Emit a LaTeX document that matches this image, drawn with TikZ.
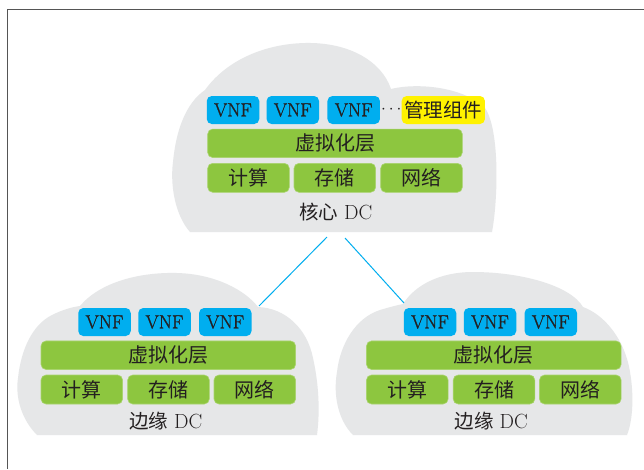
\documentclass[tikz,border=0pt]{standalone}
\usepackage{fontspec}
\newfontfamily\cjk{Noto Sans CJK SC}
\newfontfamily\vnffont{Latin Modern Roman}[FakeBold=1.2]
\definecolor{cloudgray}{HTML}{E6E7E8}
\definecolor{vnfblue}{HTML}{00AEEF}
\definecolor{laygreen}{HTML}{8DC63F}
\definecolor{laygreenrim}{HTML}{A9D46E}
\definecolor{mgmtyellow}{HTML}{FFF200}
\definecolor{txt}{HTML}{231F20}
\definecolor{framegray}{HTML}{555555}
\begin{document}
\begin{tikzpicture}[x=1pt,y=-1pt,
  cloud/.style={fill=cloudgray, draw=none},
  vnfbox/.style={fill=vnfblue, rounded corners=5pt, minimum width=52.5pt, minimum height=28pt,
    inner sep=0pt, text=txt, font=\vnffont\fontsize{19}{19}\selectfont},
  mgmtbox/.style={fill=mgmtyellow, rounded corners=5pt, minimum width=83.3pt, minimum height=28pt,
    inner sep=0pt, text=txt, font=\cjk\fontsize{19.5}{19.5}\selectfont},
  layerbox/.style={fill=laygreen, draw=laygreenrim, line width=0.6pt, rounded corners=5pt, minimum width=254.6pt,
    minimum height=28.5pt, inner sep=0pt, text=txt, font=\cjk\fontsize{20}{20}\selectfont},
  resbox/.style={fill=laygreen, draw=laygreenrim, line width=0.6pt, rounded corners=5pt, minimum width=81.6pt,
    minimum height=29pt, inner sep=0pt, text=txt, font=\cjk\fontsize{20}{20}\selectfont},
  dclabel/.style={inner sep=0pt, text=txt, font=\fontsize{20.5}{20.5}\selectfont},
  dotlabel/.style={inner sep=0pt, text=txt, font=\fontsize{19}{19}\selectfont},
  link/.style={draw=vnfblue, line width=1pt}
]
\useasboundingbox (0,0) rectangle (644,469);
\fill[white] (0,0) rectangle (644,469);
% frame
\draw[framegray, line width=1.3pt] (644,9.5) -- (7.5,9.5) -- (7.5,469);

% clouds
\path[cloud] (190,232) .. controls (175,215) and (170,185) .. (173,162)
  .. controls (176,130) and (186,103) .. (205,90)
  .. controls (225,62) and (262,44) .. (305,43)
  .. controls (350,42) and (382,62) .. (391,89)
  .. controls (420,82) and (465,88) .. (485,108)
  .. controls (500,130) and (498,200) .. (492,232) -- cycle;

\path[cloud] (37,435) .. controls (22,420) and (15,398) .. (18,378)
  .. controls (21,350) and (32,325) .. (52,315)
  .. controls (62,310) and (72,307) .. (80,306)
  .. controls (100,282) and (140,272) .. (177,273)
  .. controls (215,274) and (245,290) .. (258,307)
  .. controls (285,308) and (307,328) .. (313,358)
  .. controls (319,385) and (320,412) .. (317,435) -- cycle;

\path[cloud] (353,435) .. controls (338,420) and (333,395) .. (337,372)
  .. controls (340,345) and (355,318) .. (380,310)
  .. controls (390,307) and (398,305) .. (403,304)
  .. controls (415,285) and (440,272) .. (473,272)
  .. controls (520,272) and (570,285) .. (583,307)
  .. controls (605,315) and (625,340) .. (630,372)
  .. controls (634,395) and (633,420) .. (627,435) -- cycle;

% core DC
\node[vnfbox] (cv1) at (233,110) {VNF};
\node[vnfbox] (cv2) at (292.8,110) {VNF};
\node[vnfbox] (cv3) at (353.7,110) {VNF};
\node[dotlabel] (cdots) at (391.3,110) {$\cdots$};
\node[mgmtbox] (cmg) at (443.3,110) {管理组件};
\node[layerbox] (cvl) at (335,143.3) {虚拟化层};
\node[resbox] (cc) at (248.5,177.8) {计算};
\node[resbox] (cs) at (334.8,177.8) {存储};
\node[resbox] (cn) at (421.5,177.8) {网络};
\node[dclabel] (clab) at (335.7,212.5) {{\cjk\fontsize{19.5}{19.5}\selectfont 核心} DC};

% edge DCs
\foreach \s/\n in {0/L,325.5/R}{
  \node[vnfbox] (ev1\n) at (104.5+\s,322) {VNF};
  \node[vnfbox] (ev2\n) at (164.5+\s,322) {VNF};
  \node[vnfbox] (ev3\n) at (225.3+\s,322) {VNF};
  \node[layerbox] (evl\n) at (168.3+\s,355.2) {虚拟化层};
  \node[resbox] (ec\n) at (81.8+\s,389.5) {计算};
  \node[resbox] (es\n) at (168.5+\s,389.5) {存储};
  \node[resbox] (en\n) at (254.8+\s,389.5) {网络};
  \node[dclabel] (elab\n) at (165.7+\s,421.5) {{\cjk\fontsize{19.5}{19.5}\selectfont 边缘} DC};
}

% connectors
\coordinate (coreL) at (327,237);
\coordinate (coreR) at (345,238);
\coordinate (edgeL) at (259,306);
\coordinate (edgeR) at (404,303);
\draw[link] (coreL) -- (edgeL);
\draw[link] (coreR) -- (edgeR);
\end{tikzpicture}
\end{document}
